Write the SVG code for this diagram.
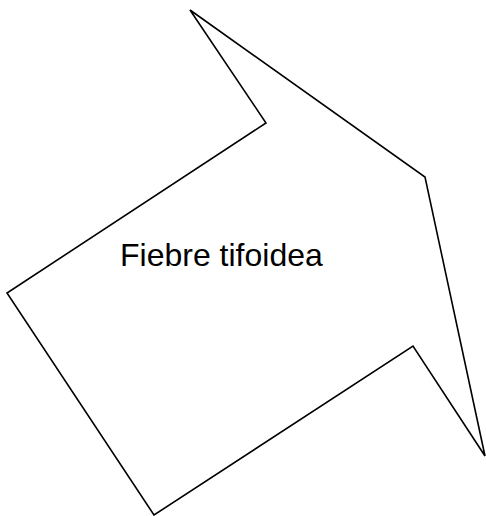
<svg xmlns="http://www.w3.org/2000/svg" width="486" height="516" viewBox="0 0 486 516">
<style>
.shape{fill:#ffffff;stroke:#000000;stroke-width:1.6;stroke-linejoin:miter}
.label{font-family:"Liberation Sans",Arial,sans-serif;font-size:32px;fill:#000000}
</style>
<rect width="486" height="516" fill="#ffffff"/>
<g id="node-fiebre">
<polygon class="shape" points="190,10 266,123 7,293 154,515 413,346 485,456 425,177"/>
<text class="label" x="120" y="266">Fiebre tifoidea</text>
</g>
</svg>
